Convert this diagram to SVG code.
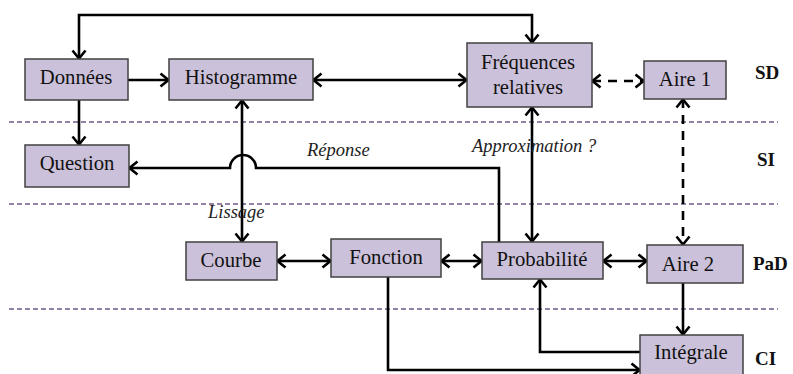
<svg xmlns="http://www.w3.org/2000/svg" width="793" height="374" viewBox="0 0 793 374">
<defs>
<style>
.box{fill:#CCC1DA;stroke:#404040;stroke-width:1.5}
.t{font-family:'Liberation Serif','Times New Roman','DejaVu Serif',serif;font-size:20.7px;fill:#111;text-anchor:middle}
.lbl{font-family:'Liberation Serif','Times New Roman','DejaVu Serif',serif;font-size:19px;font-weight:bold;fill:#111}
.it{font-family:'Liberation Serif','Times New Roman','DejaVu Serif',serif;font-size:18.5px;font-style:italic;fill:#222}
.sep{stroke:#6E5A8E;stroke-width:1.5;stroke-dasharray:5,3;fill:none}
.c{fill:none;stroke:#000;stroke-width:2.6}
.d{stroke-dasharray:9,7}
</style>
<marker id="a" viewBox="-10 -8 12 16" markerWidth="12" markerHeight="16" refX="0.5" refY="0" markerUnits="userSpaceOnUse" orient="auto-start-reverse">
<path d="M-8,-6.5 L0,0 L-8,6.5" fill="none" stroke="#000" stroke-width="2.6"/>
</marker>
</defs>
<rect width="793" height="374" fill="#fff"/>
<g id="separators">
<line class="sep" x1="9" y1="122" x2="778" y2="122"/>
<line class="sep" x1="9" y1="204" x2="778" y2="204"/>
<line class="sep" x1="9" y1="309" x2="778" y2="309"/>
</g>
<g id="connectors">
<path class="c" d="M79,59 V15 H532 V43" marker-start="url(#a)" marker-end="url(#a)"/>
<path class="c" d="M128,80 H169" marker-end="url(#a)"/>
<path class="c" d="M79,100 V145" marker-end="url(#a)"/>
<path class="c" d="M313,80 H467" marker-start="url(#a)" marker-end="url(#a)"/>
<path class="c d" d="M592,81 H644" marker-start="url(#a)" marker-end="url(#a)"/>
<path class="c" d="M242,100 V242" marker-start="url(#a)" marker-end="url(#a)"/>
<path class="c" d="M532,107 V242" marker-start="url(#a)" marker-end="url(#a)"/>
<path class="c d" d="M683,99 V245" marker-start="url(#a)" marker-end="url(#a)"/>
<path class="c" d="M499,242 V168 H256 A13,13 0 0 0 230,168 H129" marker-end="url(#a)"/>
<path class="c" d="M277,261 H331" marker-start="url(#a)" marker-end="url(#a)"/>
<path class="c" d="M441,261 H482" marker-start="url(#a)" marker-end="url(#a)"/>
<path class="c" d="M603,261 H647" marker-start="url(#a)" marker-end="url(#a)"/>
<path class="c" d="M683,283 V335" marker-end="url(#a)"/>
<path class="c" d="M640,352 H540 V279" marker-end="url(#a)"/>
<path class="c" d="M388,277 V370 H640" marker-end="url(#a)"/>
<text class="it" x="307" y="156">Réponse</text>
<text class="it" x="472" y="152">Approximation ?</text>
<text class="it" x="208" y="218">Lissage</text>
</g>
<g id="donnees"><rect class="box" x="25" y="59" width="103" height="41"/><text class="t" x="76" y="84">Données</text></g>
<g id="histogramme"><rect class="box" x="169" y="59" width="144" height="41"/><text class="t" x="241" y="84">Histogramme</text></g>
<g id="frequences"><rect class="box" x="467" y="43" width="125" height="64"/><text class="t" x="528" y="69">Fréquences</text><text class="t" x="528" y="94">relatives</text></g>
<g id="aire1"><rect class="box" x="644" y="61" width="82" height="38"/><text class="t" x="685" y="86">Aire 1</text></g>
<g id="question"><rect class="box" x="25" y="145" width="104" height="42"/><text class="t" x="77" y="170">Question</text></g>
<g id="courbe"><rect class="box" x="186" y="242" width="91" height="38"/><text class="t" x="231" y="267">Courbe</text></g>
<g id="fonction"><rect class="box" x="331" y="239" width="110" height="38"/><text class="t" x="386" y="264">Fonction</text></g>
<g id="probabilite"><rect class="box" x="482" y="242" width="121" height="37"/><text class="t" x="542" y="266">Probabilité</text></g>
<g id="aire2"><rect class="box" x="647" y="245" width="96" height="38"/><text class="t" x="688" y="271">Aire 2</text></g>
<g id="integrale"><rect class="box" x="640" y="335" width="103" height="50"/><text class="t" x="691" y="359">Intégrale</text></g>
<g id="levels">
<text class="lbl" x="755" y="79">SD</text>
<text class="lbl" x="757" y="166">SI</text>
<text class="lbl" x="753" y="270">PaD</text>
<text class="lbl" x="755" y="365">CI</text>
</g>
</svg>
